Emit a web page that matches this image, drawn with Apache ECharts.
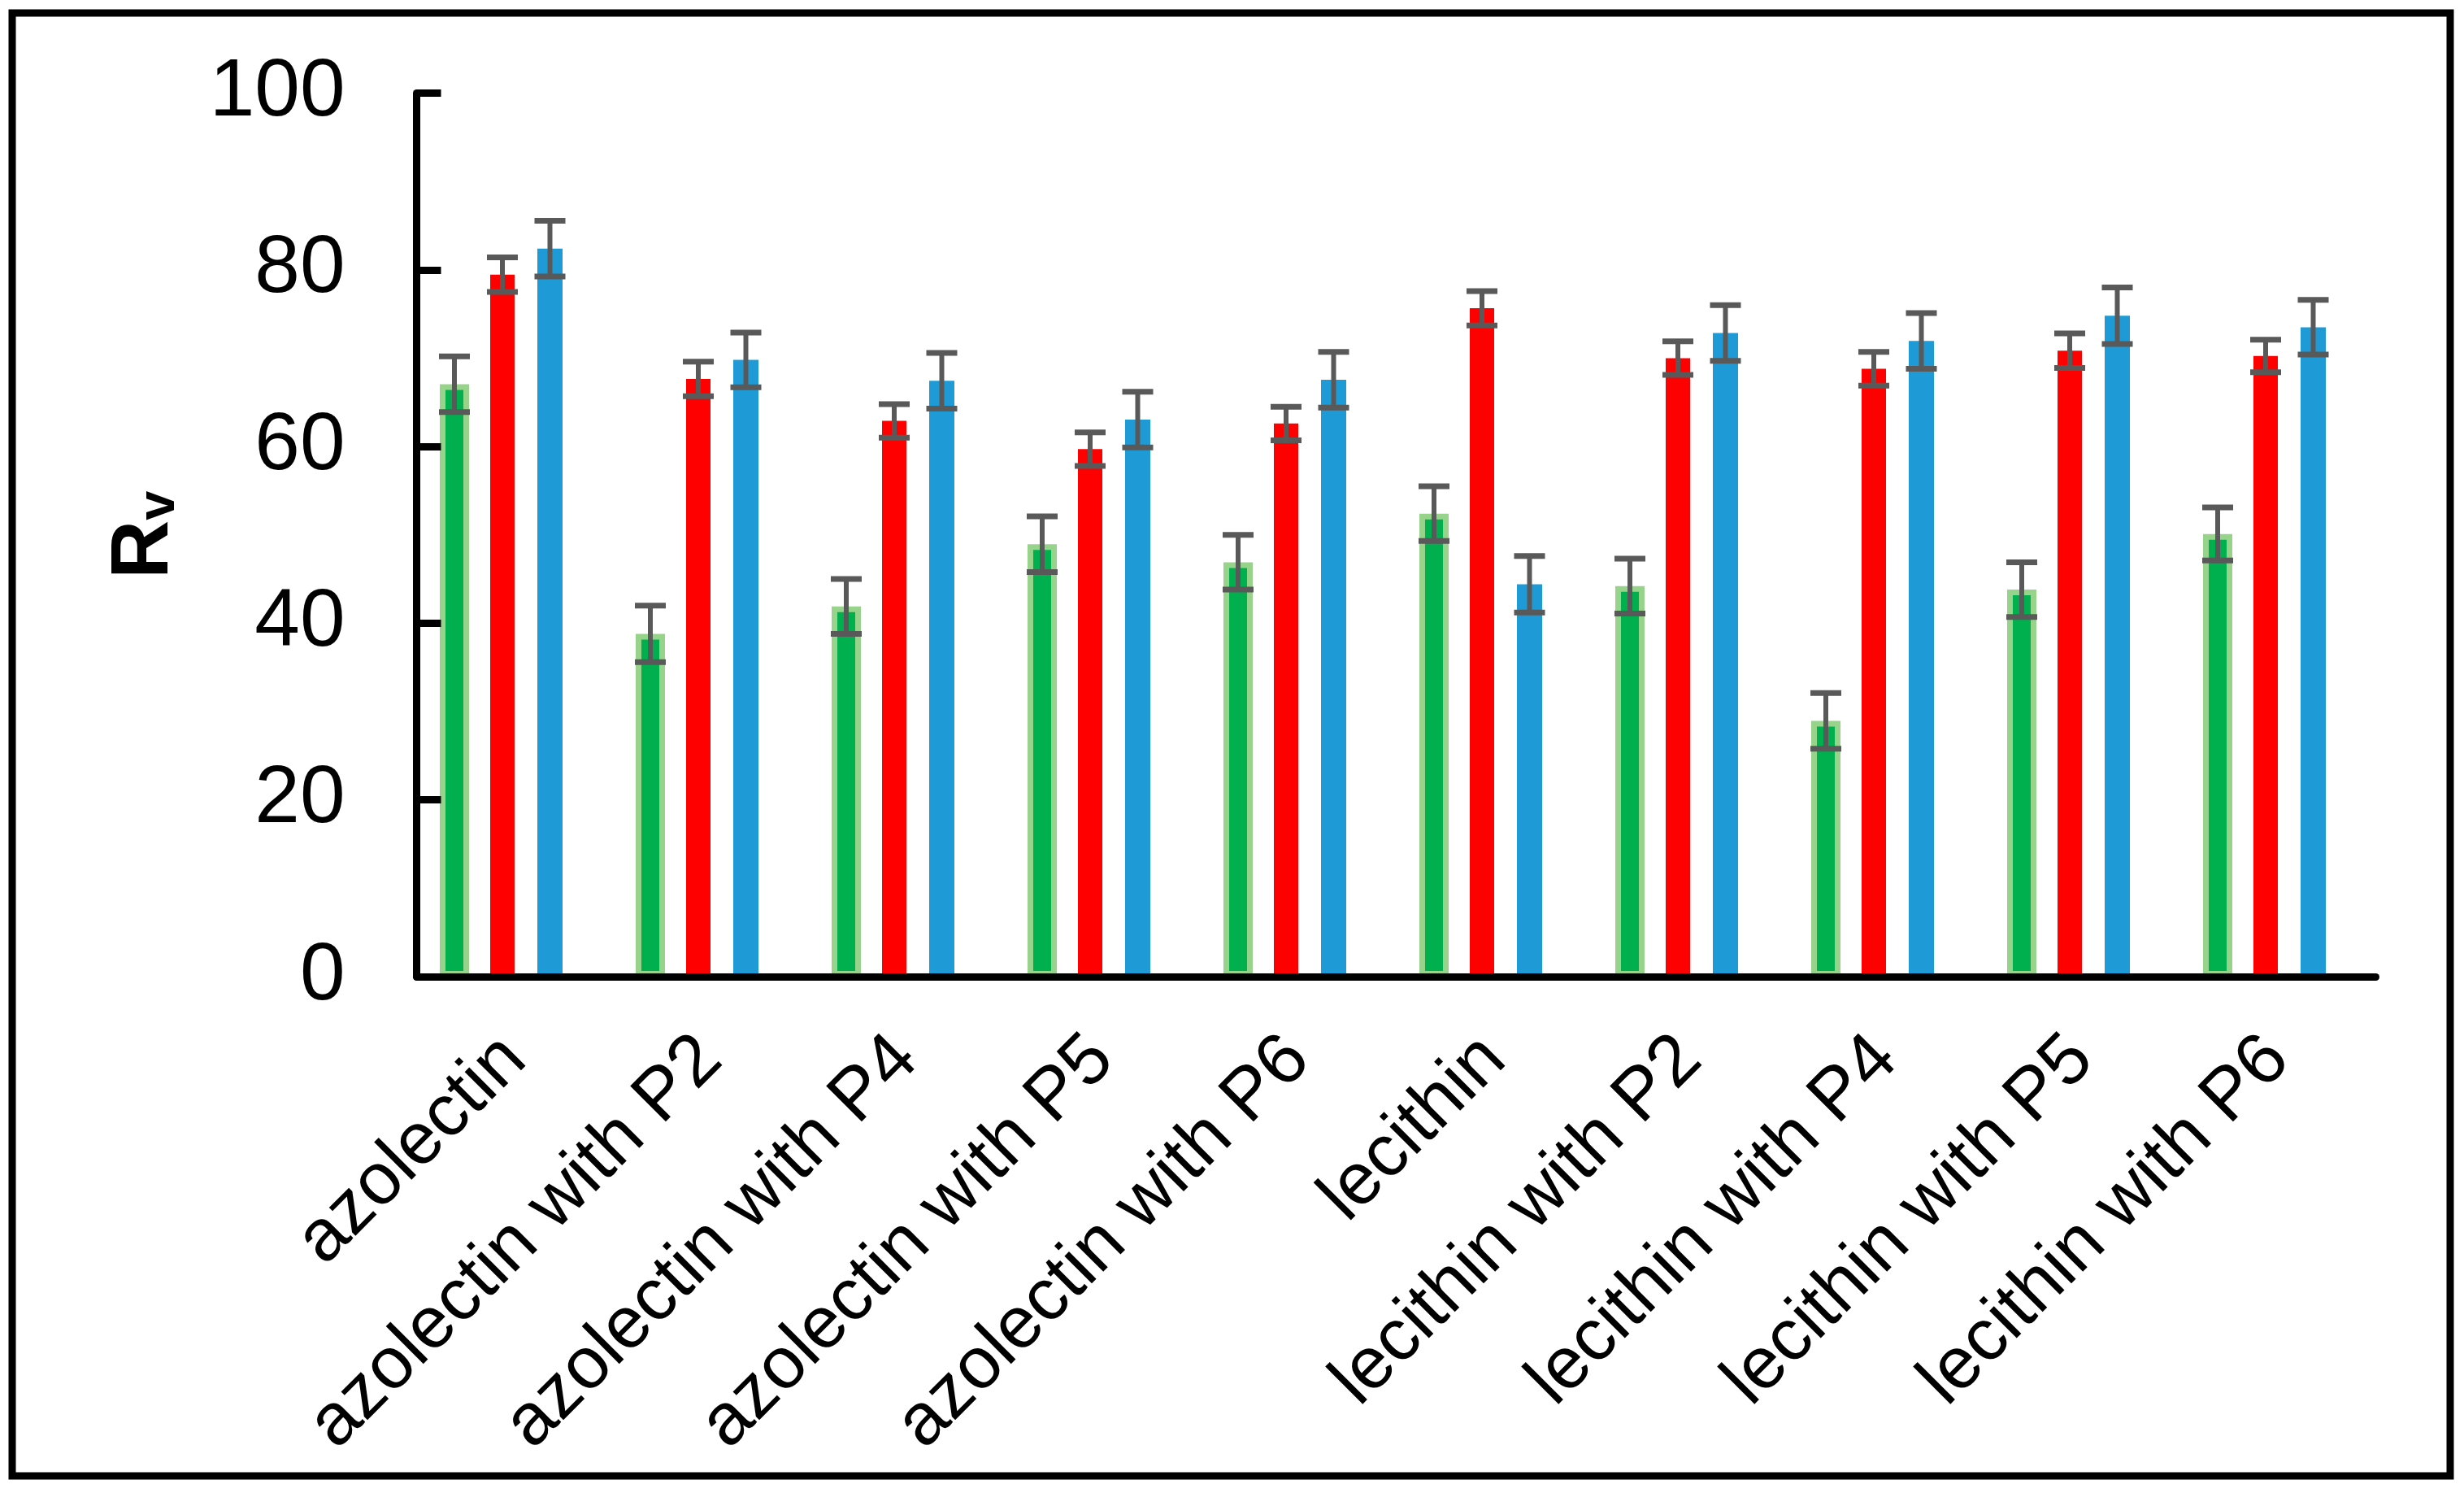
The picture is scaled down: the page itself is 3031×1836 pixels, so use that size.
<!DOCTYPE html>
<html>
<head>
<meta charset="utf-8">
<script src="https://cdn.jsdelivr.net/npm/echarts@6/dist/echarts.min.js"></script>
<style>
html, body { margin: 0; padding: 0; background: #ffffff; }
#chart { width: 3031px; height: 1836px; }
</style>
</head>
<body>
<div id="chart"></div>
<script>
// ---------------- data ----------------
const categories = [
  'azolectin', 'azolectin with P2', 'azolectin with P4', 'azolectin with P5', 'azolectin with P6',
  'lecithin', 'lecithin with P2', 'lecithin with P4', 'lecithin with P5', 'lecithin with P6'
];
const greenValues = [67.05, 38.8, 41.9, 48.95, 46.9, 52.4, 44.2, 28.95, 43.8, 50.1];
const greenErrors = [3.15, 3.2, 3.1, 3.15, 3.1, 3.1, 3.1, 3.15, 3.1, 3.0];
const redValues   = [79.45, 67.65, 62.9, 59.7, 62.6, 75.65, 70.0, 68.8, 70.85, 70.25];
const redErrors   = [1.95, 1.95, 1.9, 1.9, 1.9, 1.95, 1.9, 1.9, 1.95, 1.85];
const blueValues  = [82.4, 69.8, 67.45, 63.05, 67.55, 44.4, 72.85, 71.95, 74.8, 73.5];
const blueErrors  = [3.15, 3.1, 3.15, 3.15, 3.15, 3.2, 3.15, 3.15, 3.2, 3.1];
const yMin = 0, yMax = 100, yInterval = 20;
const yAxisName = 'R';
const yAxisSub = 'v';

// ---------------- layout / style ----------------
const FONT = '"Liberation Sans", Arial, Helvetica, sans-serif';
const AXIS_LEFT = 512.5, PLOT_W = 2410, PLOT_TOP = 114.5, PLOT_H = 1086.5;
const ERR_COLOR = '#595959';

const groups = [
  { values: greenValues, errors: greenErrors, offset: -74, barWidth: 36,
    itemStyle: { color: '#00B04F', borderColor: '#97D38B', borderWidth: 7 } },
  { values: redValues, errors: redErrors, offset: -15, barWidth: 30,
    itemStyle: { color: '#FF0000' } },
  { values: blueValues, errors: blueErrors, offset: 43.5, barWidth: 31,
    itemStyle: { color: '#1E9BD7' } }
];

function errorRenderer(params, api) {
  const i = api.value(0), v = api.value(1), e = api.value(2);
  const hi = api.coord([i, v + e]);
  const lo = api.coord([i, v - e]);
  const x = hi[0], hw = 19;
  return {
    type: 'group',
    children: [
      { type: 'line', shape: { x1: x, y1: hi[1], x2: x, y2: lo[1] },
        style: { stroke: ERR_COLOR, lineWidth: 6 } },
      { type: 'line', shape: { x1: x - hw, y1: hi[1], x2: x + hw, y2: hi[1] },
        style: { stroke: ERR_COLOR, lineWidth: 7 } },
      { type: 'line', shape: { x1: x - hw, y1: lo[1], x2: x + hw, y2: lo[1] },
        style: { stroke: ERR_COLOR, lineWidth: 7 } }
    ]
  };
}

const grids = [{ left: AXIS_LEFT, top: PLOT_TOP, width: PLOT_W, height: PLOT_H, outerBoundsMode: 'none', containLabel: false }];
const xAxes = [{
  gridIndex: 0, type: 'category', data: categories, boundaryGap: true, z: 10,
  axisLine: { show: true, lineStyle: { color: '#000', width: 9 } },
  axisTick: { show: false },
  splitLine: { show: false },
  axisLabel: { interval: 0, rotate: 45, margin: 88, color: '#000', fontSize: 90, fontFamily: FONT }
}];
const yAxes = [{
  gridIndex: 0, type: 'value', min: yMin, max: yMax, interval: yInterval, z: 10,
  axisLine: { show: true, lineStyle: { color: '#000', width: 9 } },
  axisTick: { show: true, inside: true, length: 30, lineStyle: { color: '#000', width: 9 } },
  splitLine: { show: false },
  axisLabel: { margin: 88, color: '#000', fontSize: 100, fontFamily: FONT },
  name: '{R|' + yAxisName + '}{v|' + yAxisSub + '}',
  nameLocation: 'middle', nameRotate: 90, nameGap: 284,
  nameTextStyle: {
    rich: {
      R: { fontSize: 100, fontWeight: 'bold', fontFamily: FONT, color: '#000', lineHeight: 100 },
      v: { fontSize: 65, fontWeight: 'bold', fontFamily: FONT, color: '#000', lineHeight: 30, verticalAlign: 'bottom' }
    }
  }
}];
const series = [];

groups.forEach((g, k) => {
  const gi = k + 1;
  grids.push({ left: AXIS_LEFT + g.offset, top: PLOT_TOP, width: PLOT_W, height: PLOT_H, outerBoundsMode: 'none', containLabel: false });
  xAxes.push({ gridIndex: gi, type: 'category', data: categories, boundaryGap: true, show: false });
  yAxes.push({ gridIndex: gi, type: 'value', min: yMin, max: yMax, interval: yInterval, show: false, splitLine: { show: false } });
  series.push({
    type: 'bar', xAxisIndex: gi, yAxisIndex: gi, data: g.values,
    barWidth: g.barWidth, itemStyle: g.itemStyle, z: 2, silent: true
  });
  series.push({
    type: 'custom', xAxisIndex: gi, yAxisIndex: gi, z: 4, silent: true,
    encode: { x: 0, y: 1 },
    data: categories.map((c, i) => [i, g.values[i], g.errors[i]]),
    renderItem: errorRenderer
  });
});

const chart = echarts.init(document.getElementById('chart'), null, { renderer: 'canvas' });
chart.setOption({
  animation: false,
  backgroundColor: '#ffffff',
  grid: grids,
  xAxis: xAxes,
  yAxis: yAxes,
  series: series,
  graphic: [{
    type: 'rect', silent: true, z: 100,
    shape: { x: 15, y: 16, width: 2999, height: 1799 },
    style: { fill: 'none', stroke: '#000', lineWidth: 9 }
  }]
});
</script>
</body>
</html>
